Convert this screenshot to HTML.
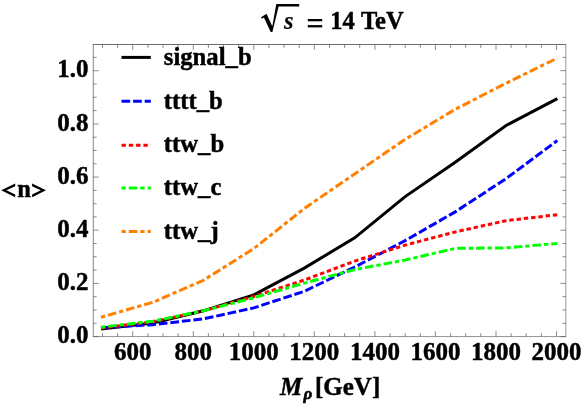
<!DOCTYPE html><html><head><meta charset="utf-8"><style>html,body{margin:0;padding:0;background:#fff}svg{display:block}text{font-family:"Liberation Serif",serif;font-weight:bold;fill:#000;stroke:#000;stroke-width:0.45px;stroke-linejoin:round}</style></head><body>
<svg width="581" height="405" viewBox="0 0 581 405" style="will-change:transform;opacity:0.999">
<rect width="581" height="405" fill="#fff"/>
<polyline points="100.96,329.07 152.90,322.91 203.35,310.81 253.80,294.85 304.25,268.08 354.70,237.82 405.15,196.60 455.60,161.90 506.05,125.48 557.39,98.69" fill="none" stroke="#000000" stroke-width="3.0" stroke-linejoin="miter"/>
<polyline points="100.95,327.65 152.90,324.63 203.35,318.92 253.80,307.88 304.25,291.32 354.70,267.07 405.15,240.61 455.60,211.63 506.05,178.66 557.30,140.57" fill="none" stroke="#0000ff" stroke-width="3.0" stroke-linejoin="miter" stroke-dasharray="8.7 2.9"/>
<polyline points="100.96,328.01 152.90,321.71 203.35,310.81 253.80,296.45 304.25,280.10 354.70,261.08 405.15,245.13 455.60,231.84 506.05,220.67 557.49,214.70" fill="none" stroke="#ff0000" stroke-width="3.0" stroke-linejoin="miter" stroke-dasharray="4.4 2.9"/>
<polyline points="100.96,327.20 152.90,321.18 203.35,310.81 253.80,297.78 304.25,283.15 354.70,269.59 405.15,260.02 455.60,248.32 506.05,247.90 557.50,243.45" fill="none" stroke="#00ff00" stroke-width="3.0" stroke-linejoin="miter" stroke-dasharray="4.25 3 8.6 3"/>
<polyline points="101.01,317.20 152.90,302.30 203.35,280.31 253.80,248.59 304.25,208.57 354.70,173.87 405.15,139.30 455.60,109.10 506.05,83.20 557.40,58.03" fill="none" stroke="#ff7f00" stroke-width="3.0" stroke-linejoin="miter" stroke-dasharray="4.25 3 8.6 3"/>
<g stroke="#666666" stroke-width="0.9" fill="none">
<path d="M92.85 44.50H566.25" stroke="#5c5c5c"/>
<path d="M92.85 336.55H566.25" stroke="#8a8a8a"/>
<path d="M93.30 44.50V336.55" stroke="#777"/>
<path d="M565.80 44.50V336.55" stroke="#8a8a8a"/>
<path d="M102.5 336.6v-3.4M102.5 44.5v3.4M117.6 336.6v-3.4M117.6 44.5v3.4M132.7 336.6v-5.4M132.7 44.5v5.4M147.9 336.6v-3.4M147.9 44.5v3.4M163.0 336.6v-3.4M163.0 44.5v3.4M178.1 336.6v-3.4M178.1 44.5v3.4M193.3 336.6v-5.4M193.3 44.5v5.4M208.4 336.6v-3.4M208.4 44.5v3.4M223.5 336.6v-3.4M223.5 44.5v3.4M238.7 336.6v-3.4M238.7 44.5v3.4M253.8 336.6v-5.4M253.8 44.5v5.4M268.9 336.6v-3.4M268.9 44.5v3.4M284.1 336.6v-3.4M284.1 44.5v3.4M299.2 336.6v-3.4M299.2 44.5v3.4M314.3 336.6v-5.4M314.3 44.5v5.4M329.5 336.6v-3.4M329.5 44.5v3.4M344.6 336.6v-3.4M344.6 44.5v3.4M359.7 336.6v-3.4M359.7 44.5v3.4M374.9 336.6v-5.4M374.9 44.5v5.4M390.0 336.6v-3.4M390.0 44.5v3.4M405.2 336.6v-3.4M405.2 44.5v3.4M420.3 336.6v-3.4M420.3 44.5v3.4M435.4 336.6v-5.4M435.4 44.5v5.4M450.6 336.6v-3.4M450.6 44.5v3.4M465.7 336.6v-3.4M465.7 44.5v3.4M480.8 336.6v-3.4M480.8 44.5v3.4M496.0 336.6v-5.4M496.0 44.5v5.4M511.1 336.6v-3.4M511.1 44.5v3.4M526.2 336.6v-3.4M526.2 44.5v3.4M541.4 336.6v-3.4M541.4 44.5v3.4M556.5 336.6v-5.4M556.5 44.5v5.4M93.3 336.6h5.4M565.8 336.6h-5.4M93.3 323.3h3.4M565.8 323.3h-3.4M93.3 310.0h3.4M565.8 310.0h-3.4M93.3 296.7h3.4M565.8 296.7h-3.4M93.3 283.4h5.4M565.8 283.4h-5.4M93.3 270.1h3.4M565.8 270.1h-3.4M93.3 256.8h3.4M565.8 256.8h-3.4M93.3 243.5h3.4M565.8 243.5h-3.4M93.3 230.2h5.4M565.8 230.2h-5.4M93.3 216.9h3.4M565.8 216.9h-3.4M93.3 203.7h3.4M565.8 203.7h-3.4M93.3 190.4h3.4M565.8 190.4h-3.4M93.3 177.1h5.4M565.8 177.1h-5.4M93.3 163.8h3.4M565.8 163.8h-3.4M93.3 150.5h3.4M565.8 150.5h-3.4M93.3 137.2h3.4M565.8 137.2h-3.4M93.3 123.9h5.4M565.8 123.9h-5.4M93.3 110.6h3.4M565.8 110.6h-3.4M93.3 97.3h3.4M565.8 97.3h-3.4M93.3 84.0h3.4M565.8 84.0h-3.4M93.3 70.7h5.4M565.8 70.7h-5.4M93.3 57.4h3.4M565.8 57.4h-3.4" stroke-width="0.7" stroke="#5a5a5a"/>
</g>
<text x="132.7" y="360" font-size="25.0" text-anchor="middle">600</text>
<text x="193.3" y="360" font-size="25.0" text-anchor="middle">800</text>
<text x="253.8" y="360" font-size="25.0" text-anchor="middle">1000</text>
<text x="314.3" y="360" font-size="25.0" text-anchor="middle">1200</text>
<text x="374.9" y="360" font-size="25.0" text-anchor="middle">1400</text>
<text x="435.4" y="360" font-size="25.0" text-anchor="middle">1600</text>
<text x="496.0" y="360" font-size="25.0" text-anchor="middle">1800</text>
<text x="556.5" y="360" font-size="25.0" text-anchor="middle">2000</text>
<text x="88.6" y="343.2" font-size="25.0" text-anchor="end">0.0</text>
<text x="88.6" y="290.0" font-size="25.0" text-anchor="end">0.2</text>
<text x="88.6" y="236.8" font-size="25.0" text-anchor="end">0.4</text>
<text x="88.6" y="183.7" font-size="25.0" text-anchor="end">0.6</text>
<text x="88.6" y="130.5" font-size="25.0" text-anchor="end">0.8</text>
<text x="88.6" y="77.3" font-size="25.0" text-anchor="end">1.0</text>
<line x1="121.5" y1="57.4" x2="150.8" y2="57.4" stroke="#000000" stroke-width="3.0"/>
<text x="163.8" y="64.6" font-size="24.7">signal<tspan dy="-1">_</tspan><tspan dy="1">b</tspan></text>
<line x1="121.5" y1="101.3" x2="150.8" y2="101.3" stroke="#0000ff" stroke-width="3.0" stroke-dasharray="8.7 2.9"/>
<text x="163.8" y="108.5" font-size="24.7">tttt<tspan dy="-1">_</tspan><tspan dy="1">b</tspan></text>
<line x1="121.5" y1="145.2" x2="150.8" y2="145.2" stroke="#ff0000" stroke-width="3.0" stroke-dasharray="4.4 2.9"/>
<text x="163.8" y="152.4" font-size="24.7">ttw<tspan dy="-1">_</tspan><tspan dy="1">b</tspan></text>
<line x1="121.5" y1="188.0" x2="150.8" y2="188.0" stroke="#00ff00" stroke-width="3.0" stroke-dasharray="4.25 3 8.6 3"/>
<text x="163.8" y="195.2" font-size="24.7">ttw<tspan dy="-1">_</tspan><tspan dy="1">c</tspan></text>
<line x1="121.5" y1="231.5" x2="150.8" y2="231.5" stroke="#ff7f00" stroke-width="3.0" stroke-dasharray="4.25 3 8.6 3"/>
<text x="163.8" y="238.7" font-size="24.7">ttw<tspan dy="-1">_</tspan><tspan dy="1">j</tspan></text>
<path d="M1.2 190.3L15.2 183.5V186.3L6.4 190.3L15.2 194.5V197.3Z" fill="#000"/>
<path d="M46.0 190.3L32.1 183.5V186.3L40.8 190.3L32.1 194.5V197.3Z" fill="#000"/>
<text x="17.3" y="196.8" font-size="24.5">n</text>
<text x="280" y="394.7" font-size="25" font-style="italic">M</text>
<text x="303.6" y="398.6" font-size="17" font-style="italic" style="stroke-width:0.6px">ρ</text>
<text x="315" y="394.7" font-size="25">[GeV]</text>
<path d="M261.1 17.3 L266.5 13.7 L272.3 26.2 L276.3 4.0 L299.2 4.0 L299.2 6.5 L278.6 6.5 L272.4 31.9 L270.7 31.9 L263.9 17.6 L261.8 18.7 Z" fill="#000"/>
<text x="284" y="29.4" font-size="24.5" font-style="italic" style="stroke-width:0.1px">s</text>
<rect x="307.8" y="19" width="14.4" height="2.3" fill="#000"/><rect x="307.8" y="25.1" width="14.4" height="2.3" fill="#000"/>
<text x="330.3" y="29.4" font-size="24.5">14</text>
<text x="361" y="29.4" font-size="24.5">TeV</text>
</svg></body></html>
